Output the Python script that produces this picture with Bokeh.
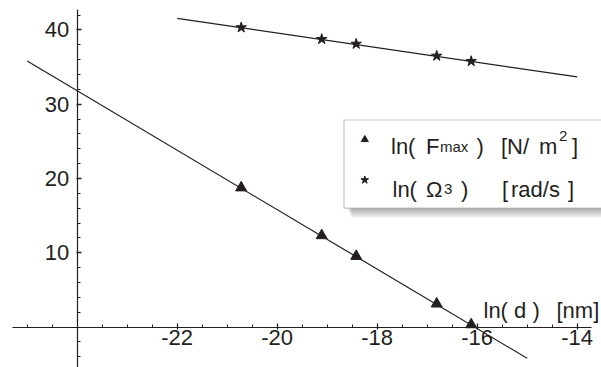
from bokeh.plotting import figure
from bokeh.models import Range1d, FixedTicker, Label, BoxAnnotation
from bokeh.embed import file_html
from bokeh.resources import INLINE

# ---- data ----
ln_d = [-20.72, -19.11, -18.42, -16.81, -16.12]
ln_Fmax = [18.76, 12.33, 9.54, 3.13, 0.34]
ln_Omega3 = [40.32, 38.75, 38.11, 36.50, 35.78]
fitF_x = [-25.0, -15.0]
fitF_y = [35.80, -4.20]
fitO_x = [-22.0, -14.0]
fitO_y = [41.54, 33.67]
x_ticks = [-22, -20, -18, -16, -14]
x_minor = [-25 + 0.5 * i for i in range(22)]
y_ticks = [10, 20, 30, 40]
y_minor = [-4 + 2 * i for i in range(24)]

# ---- layout helpers (picture pixel -> data) ----
X0_PX, XS = 176.7, 50.0
Y0_PX, YS = 326.6, 7.43
OFF = 0  # picture pixel of the canvas origin
def px2x(px): return -22 + (px - X0_PX) / XS
def px2y(py): return (Y0_PX - py) / YS

W, H = 601, 367
INK = "#231f20"
FONT = "Liberation Sans"

p = figure(width=W, height=H, output_backend="svg", toolbar_location=None,
           x_range=Range1d(px2x(OFF), px2x(OFF + W)), y_range=Range1d(px2y(OFF + H), px2y(OFF)),
           min_border=0, min_border_left=0, min_border_right=0, min_border_top=0, min_border_bottom=0)
p.outline_line_color = None
p.xgrid.visible = False
p.ygrid.visible = False
p.background_fill_color = "white"
p.border_fill_color = "white"

# axes crossing at (-24, 0)
p.xaxis.fixed_location = 0
p.yaxis.fixed_location = -24
p.xaxis.ticker = FixedTicker(ticks=x_ticks, minor_ticks=x_minor)
p.yaxis.ticker = FixedTicker(ticks=y_ticks, minor_ticks=y_minor)
p.xaxis.major_label_overrides = {t: str(t) for t in x_ticks}
p.yaxis.major_label_overrides = {t: str(t) for t in y_ticks}
p.xaxis.bounds = (-25.3, -13.72)
p.yaxis.bounds = (px2y(OFF + H), 42.75)
for ax in (p.xaxis, p.yaxis):
    ax.axis_line_color = INK
    ax.axis_line_width = 1.2
    ax.major_tick_line_color = INK
    ax.minor_tick_line_color = INK
    ax.major_tick_line_width = 1.3
    ax.minor_tick_line_width = 1
    ax.major_label_text_font = FONT
    ax.major_label_text_font_size = "22px"
    ax.major_label_text_color = INK
p.xaxis.major_tick_in = 4
p.xaxis.major_tick_out = 2
p.xaxis.minor_tick_in = 3
p.xaxis.minor_tick_out = 0
p.xaxis.major_label_standoff = 1
p.yaxis.major_tick_in = 4
p.yaxis.major_tick_out = 1
p.yaxis.minor_tick_in = 3
p.yaxis.minor_tick_out = 0
p.yaxis.major_label_standoff = 7

# legend box with shadow (drawn beneath the glyphs)
for i in range(5):
    p.add_layout(BoxAnnotation(left=px2x(347 + i), right=px2x(OFF + W), top=px2y(207.7),
                               bottom=px2y(209 + 2 * i), fill_color="#000000", fill_alpha=0.07,
                               line_color=None, level="underlay"))
p.add_layout(BoxAnnotation(left=px2x(343.5), right=px2x(OFF + W + 5), top=px2y(119.5),
                           bottom=px2y(207.7), fill_color="white", fill_alpha=1.0,
                           line_color="#3a3a3a", line_width=1.2, level="underlay"))

# fit lines and points
p.line(fitF_x, fitF_y, line_color=INK, line_width=1.2)
p.line(fitO_x, fitO_y, line_color=INK, line_width=1.2)
p.scatter(ln_d, ln_Fmax, marker="triangle", size=11, color=INK)
p.scatter(ln_d, ln_Omega3, marker="star", size=11, color=INK)

# axis caption
for txt, xp in [("ln( d )", 483), ("[nm]", 556)]:
    p.add_layout(Label(x=px2x(xp), y=px2y(309.5), text=txt, text_font=FONT,
                       text_font_size="22px", text_color=INK, text_baseline="alphabetic"))

# legend entries
p.scatter([px2x(364.3)], [px2y(139)], marker="triangle", size=7, color=INK)
p.scatter([px2x(364.3)], [px2y(179.5)], marker="star", size=8, color=INK)

row1 = [("ln(", 390.5, 146, 22), ("F", 425.5, 146, 22), ("max", 439.5, 146, 15),
        (")", 476, 146, 22), ("[N/", 500.5, 146, 22), ("m", 538.5, 146, 22),
        ("2", 558.5, 135, 15), ("]", 571.5, 146, 22)]
row2 = [("ln(", 392, 188.5, 22), ("Ω", 425.5, 188.5, 22), ("3", 443.5, 188.5, 15),
        (")", 460.5, 188.5, 22), ("[", 501.5, 188.5, 22), ("rad/s", 510.5, 188.5, 22),
        ("]", 567.5, 188.5, 22)]
for txt, xp, yp, fs in row1 + row2:
    p.add_layout(Label(x=px2x(xp), y=px2y(yp), text=txt, text_font=FONT,
                       text_font_size=f"{fs}px", text_color=INK, text_baseline="alphabetic"))

open("out.html", "w").write(file_html(p, INLINE))
